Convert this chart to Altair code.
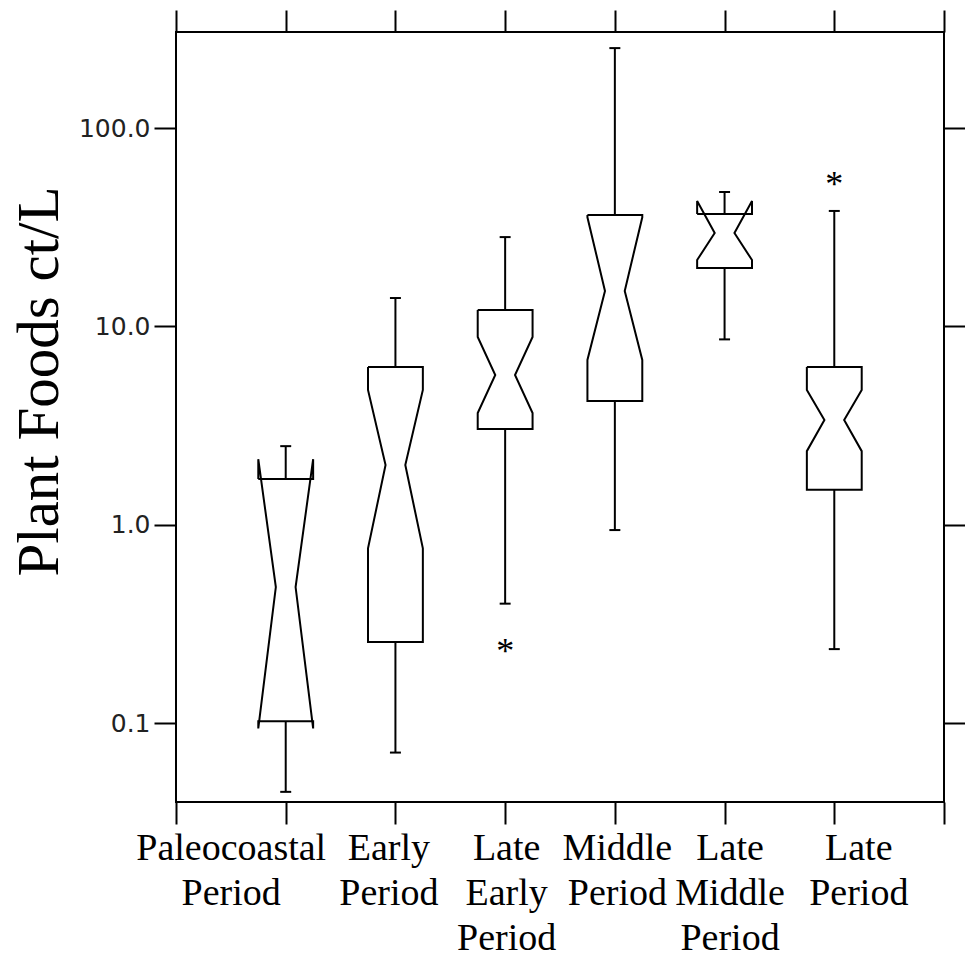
import altair as alt
import pandas as pd

# ---------------- data ----------------
categories = ["Paleocoastal Period", "Early Period", "Late Early Period",
              "Middle Period", "Late Middle Period", "Late Period"]
label_lines = [["Paleocoastal", "Period"], ["Early", "Period"], ["Late", "Early", "Period"],
               ["Middle", "Period"], ["Late", "Middle", "Period"], ["Late", "Period"]]
label_shift = [-55, -7, 1, 2, 5, 24]   # horizontal nudge of each category label (px)
whisker_low = [0.045, 0.071, 0.40, 0.94, 8.6, 0.236]
q1 = [0.102, 0.256, 3.04, 4.20, 19.7, 1.50]
notch_low = [0.094, 0.76, 3.66, 6.77, 21.6, 2.35]
median = [0.485, 2.0, 5.69, 15.1, 29.6, 3.37]
notch_high = [2.14, 4.78, 8.84, 35.5, 42.9, 4.78]
q3 = [1.70, 6.24, 12.1, 36.4, 36.9, 6.24]
whisker_high = [2.49, 13.9, 28.2, 253.0, 47.6, 38.2]
outlier_cat = ["Late Early Period", "Late Period"]
outlier_val = [0.247, 56.0]
y_ticks = [0.1, 1.0, 10.0, 100.0]

# ---------------- geometry helpers (box shape only) ----------------
HW = 0.25   # half box width (x units)
NW = 0.09   # half width at the notch waist
CW = 0.05   # half width of whisker caps

outline_rows = []
for i, c in enumerate(categories):
    p = i + 1
    pts = [(-HW, q3[i]), (HW, q3[i]), (HW, notch_high[i]), (NW, median[i]),
           (HW, notch_low[i]), (HW, q1[i]), (-HW, q1[i]), (-HW, notch_low[i]),
           (-NW, median[i]), (-HW, notch_high[i]), (-HW, q3[i])]
    for k, (dx, v) in enumerate(pts):
        outline_rows.append({"cat": c, "k": k, "x": p + dx, "y": v})
outline = pd.DataFrame(outline_rows)

whisk_rows = []
cap_rows = []
for i, c in enumerate(categories):
    p = i + 1
    whisk_rows.append({"cat": c, "x": p, "y": q3[i], "y2": whisker_high[i]})
    whisk_rows.append({"cat": c, "x": p, "y": q1[i], "y2": whisker_low[i]})
    cap_rows.append({"cat": c, "x": p - CW, "x2": p + CW, "y": whisker_high[i]})
    cap_rows.append({"cat": c, "x": p - CW, "x2": p + CW, "y": whisker_low[i]})
whisk = pd.DataFrame(whisk_rows)
caps = pd.DataFrame(cap_rows)
outl = pd.DataFrame({"x": [categories.index(c) + 1 for c in outlier_cat], "y": outlier_val})

# ---------------- scales and axes ----------------
xscale = alt.Scale(domain=[0, 7], nice=False, zero=False)
yscale = alt.Scale(type="log", domain=[0.04, 305], nice=False)

expr = "''"
off_expr = "0"
for i in reversed(range(len(label_lines))):
    arr = "[" + ",".join("'" + s + "'" for s in label_lines[i]) + "]"
    expr = f"datum.value == {i + 1} ? {arr} : ({expr})"
    off_expr = f"datum.value == {i + 1} ? {label_shift[i]} : ({off_expr})"

common_tick = dict(tickSize=22, tickWidth=2, tickColor="black", domain=False, grid=False)

bottom_axis = alt.Axis(orient="bottom", values=list(range(0, 8)), labelExpr=expr,
                       labelFont="Liberation Serif", labelFontSize=38, labelColor="black",
                       labelPadding=5, labelLineHeight=45, labelBaseline="top",
                       labelOffset={"expr": off_expr}, labelLimit=0,
                       labelFlush=False, labelOverlap=False, labelBound=False,
                       title=None, **common_tick)
top_axis = alt.Axis(orient="top", values=list(range(0, 8)), labels=False, title=None, **common_tick)
left_axis = alt.Axis(orient="left", values=y_ticks, format=".1f",
                     labelFont="DejaVu Sans", labelFontSize=25, labelColor="#222",
                     labelPadding=4, labelOverlap=False, labelFlush=False,
                     title="Plant Foods ct/L", titleFont="Liberation Serif", titleFontSize=59,
                     titleFontWeight="normal", titleColor="black", titleAngle=-90,
                     titleAlign="center", titleBaseline="middle", titleX=-137, titleY=349,
                     **common_tick)
right_axis = alt.Axis(orient="right", values=y_ticks, labels=False, title=None, **common_tick)

# ---------------- layers ----------------
box_layer = alt.Chart(outline).mark_line(color="black", strokeWidth=2, strokeJoin="miter").encode(
    x=alt.X("x:Q", scale=xscale, axis=bottom_axis),
    y=alt.Y("y:Q", scale=yscale, axis=left_axis),
    detail="cat:N",
    order="k:Q",
)

whisk_layer = alt.Chart(whisk).mark_rule(color="black", strokeWidth=2).encode(
    x=alt.X("x:Q", scale=xscale, axis=top_axis),
    y=alt.Y("y:Q", scale=yscale, axis=right_axis),
    y2="y2:Q",
)

cap_layer = alt.Chart(caps).mark_rule(color="black", strokeWidth=2).encode(
    x=alt.X("x:Q", scale=xscale, axis=None),
    x2="x2:Q",
    y=alt.Y("y:Q", scale=yscale, axis=None),
)

out_layer = alt.Chart(outl).mark_text(text="*", font="Liberation Serif", fontSize=36,
                                      color="black", baseline="middle", dy=7).encode(
    x=alt.X("x:Q", scale=xscale, axis=None),
    y=alt.Y("y:Q", scale=yscale, axis=None),
)

chart = alt.layer(box_layer, whisk_layer, cap_layer, out_layer).resolve_axis(
    x="independent", y="independent"
).properties(
    width=768, height=770,
    autosize=alt.AutoSizeParams(type="none"),
    padding={"left": 176, "top": 32, "right": 21, "bottom": 158},
    background="white",
).configure_view(stroke="black", strokeWidth=2)

chart.save("out.html", embed_options={"renderer": "svg", "actions": False})
